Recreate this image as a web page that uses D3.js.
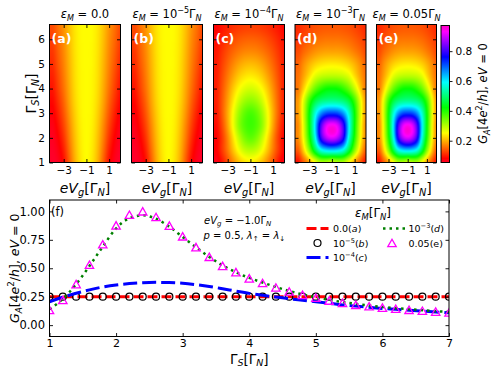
<!DOCTYPE html>
<html>
<head>
<meta charset="utf-8">
<script src="https://cdn.jsdelivr.net/npm/d3@7"></script>
<style>
  body { margin: 0; background: #fff; }
  text { white-space: pre; }
</style>
</head>
<body>
<script>
// heatmap grid (eV_g columns, Gamma_S rows from bottom to top)
const heatX = [-4, -3.5, -3, -2.5, -2, -1.5, -1, -0.5, 0, 0.5, 1, 1.5, 2];
const heatY = [1, 1.5, 2, 2.5, 3, 3.5, 4, 4.5, 5, 5.5, 6, 6.5];

const gridAB = [
  [0.05, 0.062, 0.09, 0.145, 0.2, 0.235, 0.25, 0.235, 0.2, 0.145, 0.09, 0.062, 0.05],
  [0.055, 0.07, 0.102, 0.155, 0.205, 0.238, 0.25, 0.238, 0.205, 0.155, 0.102, 0.07, 0.055],
  [0.06, 0.08, 0.115, 0.165, 0.21, 0.24, 0.25, 0.24, 0.21, 0.165, 0.115, 0.08, 0.06],
  [0.067, 0.091, 0.127, 0.173, 0.215, 0.242, 0.25, 0.242, 0.215, 0.173, 0.127, 0.091, 0.067],
  [0.076, 0.102, 0.138, 0.182, 0.22, 0.244, 0.25, 0.244, 0.22, 0.182, 0.138, 0.102, 0.076],
  [0.085, 0.113, 0.148, 0.19, 0.225, 0.245, 0.25, 0.245, 0.225, 0.19, 0.148, 0.113, 0.085],
  [0.094, 0.123, 0.157, 0.195, 0.228, 0.246, 0.25, 0.246, 0.228, 0.195, 0.157, 0.123, 0.094],
  [0.102, 0.13, 0.163, 0.199, 0.23, 0.246, 0.25, 0.246, 0.23, 0.199, 0.163, 0.13, 0.102],
  [0.11, 0.138, 0.168, 0.202, 0.231, 0.247, 0.25, 0.247, 0.231, 0.202, 0.168, 0.138, 0.11],
  [0.117, 0.144, 0.172, 0.205, 0.233, 0.247, 0.25, 0.247, 0.233, 0.205, 0.172, 0.144, 0.117],
  [0.124, 0.15, 0.176, 0.208, 0.234, 0.248, 0.25, 0.248, 0.234, 0.208, 0.176, 0.15, 0.124],
  [0.13, 0.155, 0.18, 0.21, 0.235, 0.248, 0.25, 0.248, 0.235, 0.21, 0.18, 0.155, 0.13],
];

const gridC = [
  [0.065, 0.095, 0.135, 0.175, 0.21, 0.232, 0.24, 0.232, 0.21, 0.175, 0.135, 0.095, 0.065],
  [0.08, 0.117, 0.162, 0.212, 0.258, 0.29, 0.3, 0.29, 0.258, 0.212, 0.162, 0.117, 0.08],
  [0.08, 0.118, 0.172, 0.235, 0.295, 0.34, 0.358, 0.34, 0.295, 0.235, 0.172, 0.118, 0.08],
  [0.088, 0.13, 0.19, 0.26, 0.328, 0.368, 0.382, 0.368, 0.328, 0.26, 0.19, 0.13, 0.088],
  [0.095, 0.14, 0.196, 0.258, 0.318, 0.358, 0.374, 0.358, 0.318, 0.258, 0.196, 0.14, 0.095],
  [0.1, 0.14, 0.188, 0.238, 0.285, 0.316, 0.327, 0.316, 0.285, 0.238, 0.188, 0.14, 0.1],
  [0.1, 0.136, 0.176, 0.216, 0.25, 0.272, 0.28, 0.272, 0.25, 0.216, 0.176, 0.136, 0.1],
  [0.1, 0.13, 0.162, 0.192, 0.218, 0.234, 0.24, 0.234, 0.218, 0.192, 0.162, 0.13, 0.1],
  [0.098, 0.123, 0.148, 0.171, 0.19, 0.202, 0.206, 0.202, 0.19, 0.171, 0.148, 0.123, 0.098],
  [0.095, 0.115, 0.134, 0.15, 0.162, 0.17, 0.172, 0.17, 0.162, 0.15, 0.134, 0.115, 0.095],
  [0.09, 0.105, 0.119, 0.131, 0.14, 0.145, 0.147, 0.145, 0.14, 0.131, 0.119, 0.105, 0.09],
  [0.082, 0.094, 0.104, 0.113, 0.119, 0.123, 0.124, 0.123, 0.119, 0.113, 0.104, 0.094, 0.082],
];

const gridDE = [
  [0.09, 0.14, 0.19, 0.25, 0.3, 0.3, 0.28, 0.3, 0.3, 0.25, 0.19, 0.14, 0.09],
  [0.14, 0.22, 0.33, 0.46, 0.57, 0.61, 0.62, 0.61, 0.57, 0.46, 0.33, 0.22, 0.14],
  [0.17, 0.26, 0.4, 0.57, 0.78, 0.88, 0.91, 0.88, 0.78, 0.57, 0.4, 0.26, 0.17],
  [0.17, 0.27, 0.42, 0.6, 0.8, 0.91, 0.94, 0.91, 0.8, 0.6, 0.42, 0.27, 0.17],
  [0.18, 0.28, 0.42, 0.56, 0.66, 0.71, 0.72, 0.71, 0.66, 0.56, 0.42, 0.28, 0.18],
  [0.18, 0.27, 0.38, 0.46, 0.5, 0.515, 0.52, 0.515, 0.5, 0.46, 0.38, 0.27, 0.18],
  [0.16, 0.22, 0.29, 0.35, 0.39, 0.415, 0.42, 0.415, 0.39, 0.35, 0.29, 0.22, 0.16],
  [0.155, 0.19, 0.23, 0.27, 0.29, 0.298, 0.3, 0.298, 0.29, 0.27, 0.23, 0.19, 0.155],
  [0.145, 0.175, 0.2, 0.22, 0.232, 0.238, 0.24, 0.238, 0.232, 0.22, 0.2, 0.175, 0.145],
  [0.13, 0.15, 0.165, 0.178, 0.186, 0.19, 0.19, 0.19, 0.186, 0.178, 0.165, 0.15, 0.13],
  [0.118, 0.132, 0.143, 0.152, 0.157, 0.16, 0.16, 0.16, 0.157, 0.152, 0.143, 0.132, 0.118],
  [0.108, 0.118, 0.127, 0.134, 0.138, 0.14, 0.14, 0.14, 0.138, 0.134, 0.127, 0.118, 0.108],
];

const panelGrids = [gridAB, gridAB, gridC, gridDE, gridDE];
const panelTags = ['(a)', '(b)', '(c)', '(d)', '(e)'];
const heatXTicks = [-3, -1, 1];
const heatYTicks = [1, 2, 3, 4, 5, 6];
const cbarTicks = [0.2, 0.4, 0.6, 0.8];
const cbarRange = [0.054, 0.972];

// line plot (f)
const gammaS = [1.0, 1.2, 1.4, 1.6, 1.8, 2.0, 2.2, 2.4, 2.6, 2.8, 3.0, 3.2, 3.4, 3.6, 3.8, 4.0,
  4.2, 4.4, 4.6, 4.8, 5.0, 5.2, 5.4, 5.6, 5.8, 6.0, 6.2, 6.4, 6.6, 6.8, 7.0];
const seriesA = [0.25, 0.25, 0.25, 0.25, 0.25, 0.25, 0.25, 0.25, 0.25, 0.25, 0.25, 0.25, 0.25, 0.25, 0.25, 0.25,
  0.25, 0.25, 0.25, 0.25, 0.25, 0.25, 0.25, 0.25, 0.25, 0.25, 0.25, 0.25, 0.25, 0.25, 0.25];
const seriesB = [0.25, 0.25, 0.25, 0.25, 0.25, 0.25, 0.25, 0.25, 0.25, 0.25, 0.25, 0.25, 0.25, 0.25, 0.25, 0.25,
  0.25, 0.25, 0.25, 0.25, 0.25, 0.25, 0.25, 0.25, 0.25, 0.25, 0.25, 0.25, 0.25, 0.25, 0.25];
const seriesC = [0.205, 0.245, 0.28, 0.31, 0.335, 0.353, 0.365, 0.373, 0.376, 0.374, 0.368, 0.356, 0.34, 0.32, 0.299, 0.279,
  0.262, 0.247, 0.232, 0.219, 0.206, 0.192, 0.178, 0.167, 0.157, 0.147, 0.139, 0.131, 0.123, 0.116, 0.108];
const seriesD = [0.14, 0.23, 0.36, 0.52, 0.69, 0.85, 0.94, 0.965, 0.935, 0.865, 0.775, 0.685, 0.6, 0.525, 0.465, 0.415,
  0.375, 0.335, 0.3, 0.27, 0.245, 0.222, 0.203, 0.187, 0.173, 0.16, 0.149, 0.14, 0.131, 0.123, 0.116];
const seriesE = [0.132, 0.22, 0.36, 0.53, 0.71, 0.876, 0.97, 1.0, 0.95, 0.874, 0.78, 0.685, 0.6, 0.52, 0.465, 0.41,
  0.37, 0.33, 0.295, 0.265, 0.24, 0.215, 0.195, 0.178, 0.165, 0.153, 0.143, 0.134, 0.126, 0.118, 0.11];
const lineXTicks = [1, 2, 3, 4, 5, 6, 7];
const lineYTicks = [0, 0.25, 0.5, 0.75, 1.0];

const FONT = 'DejaVu Sans';

// gist_rainbow colour map
const cmapStops = [0, 0.03, 0.215, 0.4, 0.586, 0.77, 0.954, 1];
const cmapColors = ['#ff0029', '#ff0000', '#ffff00', '#00ff00', '#00ffff', '#0000ff', '#ff00ff', '#ff00bf'];
const cmap = d3.scaleLinear()
  .domain(cmapStops.map((s) => cbarRange[0] + s * (cbarRange[1] - cbarRange[0])))
  .range(cmapColors)
  .clamp(true);

const svg = d3.select('body').append('svg')
  .attr('width', 498)
  .attr('height', 374)
  .style('display', 'block');
const defs = svg.append('defs');

// small helper for matplotlib-like mathtext
const seg = (txt, st = '') => ({ txt, it: st.includes('i'), sub: st.includes('s'), sup: st.includes('p') });
function mathText(parent, segs, size) {
  const t = parent.append('text').attr('font-family', FONT).attr('font-size', size).attr('fill', '#000');
  let off = 0;
  segs.forEach((s) => {
    const target = s.sub ? size * 0.22 : (s.sup ? -size * 0.4 : 0);
    const ts = t.append('tspan').text(s.txt).attr('dy', target - off);
    off = target;
    if (s.sub || s.sup) ts.attr('font-size', size * 0.7);
    if (s.it) ts.attr('font-style', 'italic');
  });
  return t;
}

function styleAxis(g, size) {
  g.select('.domain').remove();
  g.selectAll('.tick line').attr('stroke', '#000').attr('stroke-width', 0.9);
  g.selectAll('.tick text').attr('font-family', FONT).attr('font-size', size).attr('fill', '#000');
}

// smooth (bicubic) lookup into a grid, as imshow's interpolation does
function cubic(p0, p1, p2, p3, t) {
  return p1 + 0.5 * t * (p2 - p0 + t * (2 * p0 - 5 * p1 + 4 * p2 - p3 + t * (3 * (p1 - p2) + p3 - p0)));
}
function sampleGrid(grid, fi, fj) {
  const nr = grid.length;
  const nc = grid[0].length;
  const ci = Math.floor(fi);
  const rj = Math.floor(fj);
  const cl = (k, n) => Math.max(0, Math.min(n - 1, k));
  const rows = [-1, 0, 1, 2].map((o) => {
    const row = grid[cl(rj + o, nr)];
    return cubic(row[cl(ci - 1, nc)], row[cl(ci, nc)], row[cl(ci + 1, nc)], row[cl(ci + 2, nc)], fi - ci);
  });
  return cubic(rows[0], rows[1], rows[2], rows[3], fj - rj);
}

// ---------- heatmaps ----------
const hmTop = 24.5;
const hmBottom = 162.5;
const panelLeft = [49.5, 131.5, 213.5, 295, 376.5];
const panelWidth = [71, 71, 71, 71, 60];
const titles = [
  [seg('ε', 'i'), seg('M', 'is'), seg(' = 0.0')],
  [seg('ε', 'i'), seg('M', 'is'), seg(' = 10'), seg('−5', 'p'), seg('Γ'), seg('N', 'is')],
  [seg('ε', 'i'), seg('M', 'is'), seg(' = 10'), seg('−4', 'p'), seg('Γ'), seg('N', 'is')],
  [seg('ε', 'i'), seg('M', 'is'), seg(' = 10'), seg('−3', 'p'), seg('Γ'), seg('N', 'is')],
  [seg('ε', 'i'), seg('M', 'is'), seg(' = 0.05'), seg('Γ'), seg('N', 'is')],
];

const y = d3.scaleLinear().domain([1, 6.6]).range([hmBottom, hmTop]);
const dxCell = heatX[1] - heatX[0];
const dyCell = heatY[1] - heatY[0];

panelGrids.forEach((grid, i) => {
  const left = panelLeft[i];
  const w = panelWidth[i];
  const h = hmBottom - hmTop;
  const x = d3.scaleLinear().domain([-4.25, 2]).range([left, left + w]);
  const g = svg.append('g');

  const W = Math.round(w);
  const H = Math.round(h);
  const canvas = document.createElement('canvas');
  canvas.width = W;
  canvas.height = H;
  const ctx = canvas.getContext('2d');
  const img = ctx.createImageData(W, H);
  for (let py = 0; py < H; py += 1) {
    const yv = y.invert(hmTop + (py + 0.5) * h / H);
    const fj = Math.max(0, Math.min(heatY.length - 1, (yv - heatY[0]) / dyCell));
    for (let px = 0; px < W; px += 1) {
      const xv = x.invert(left + (px + 0.5) * w / W);
      const fi = Math.max(0, Math.min(heatX.length - 1, (xv - heatX[0]) / dxCell));
      const col = d3.rgb(cmap(sampleGrid(grid, fi, fj)));
      const k = (py * W + px) * 4;
      img.data[k] = col.r;
      img.data[k + 1] = col.g;
      img.data[k + 2] = col.b;
      img.data[k + 3] = 255;
    }
  }
  ctx.putImageData(img, 0, 0);

  g.append('image')
    .attr('href', canvas.toDataURL())
    .attr('x', left).attr('y', hmTop)
    .attr('width', w).attr('height', h)
    .attr('preserveAspectRatio', 'none');

  // axes, ticks pointing inwards on all sides
  const fmt = d3.format('d');
  const ax = g.append('g').attr('transform', `translate(0,${hmBottom})`)
    .call(d3.axisBottom(x).tickValues(heatXTicks).tickSize(-3.5).tickPadding(4.5).tickFormat(fmt));
  styleAxis(ax, 10.5);
  const axT = g.append('g').attr('transform', `translate(0,${hmTop})`)
    .call(d3.axisTop(x).tickValues(heatXTicks).tickSize(-3.5).tickFormat(''));
  styleAxis(axT, 10);
  const ayL = g.append('g').attr('transform', `translate(${left},0)`)
    .call(d3.axisLeft(y).tickValues(heatYTicks).tickSize(-3.5).tickPadding(4.5)
      .tickFormat(i === 0 ? fmt : ''));
  styleAxis(ayL, 10.5);
  const ayR = g.append('g').attr('transform', `translate(${left + w},0)`)
    .call(d3.axisRight(y).tickValues(heatYTicks).tickSize(-3.5).tickFormat(''));
  styleAxis(ayR, 10);

  g.append('rect')
    .attr('x', left).attr('y', hmTop)
    .attr('width', w).attr('height', h)
    .attr('fill', 'none').attr('stroke', '#000').attr('stroke-width', 1);

  g.append('text')
    .attr('x', left + 2).attr('y', hmTop + 18.5)
    .attr('font-family', FONT).attr('font-size', 12.5).attr('font-weight', 'bold')
    .attr('fill', '#fff')
    .text(panelTags[i]);

  mathText(g, titles[i], 11.5)
    .attr('x', left + w / 2).attr('y', 18)
    .attr('text-anchor', 'middle');

  mathText(g, [seg('eV', 'i'), seg('g', 'is'), seg('['), seg('Γ'), seg('N', 'is'), seg(']')], 14)
    .attr('x', left + w / 2).attr('y', 193)
    .attr('text-anchor', 'middle');
});

mathText(svg, [seg('Γ'), seg('S', 'is'), seg('['), seg('Γ'), seg('N', 'is'), seg(']')], 14)
  .attr('text-anchor', 'middle')
  .attr('transform', `translate(35.5,${(hmTop + hmBottom) / 2}) rotate(-90)`);

// ---------- colour bar ----------
const cbLeft = 441;
const cbW = 8.5;
const cbTop = 25.5;
const cbScale = d3.scaleLinear().domain(cbarRange).range([hmBottom, cbTop]);
const grad = defs.append('linearGradient').attr('id', 'cbgrad')
  .attr('x1', 0).attr('y1', 1).attr('x2', 0).attr('y2', 0);
cmapStops.forEach((s, k) => {
  grad.append('stop').attr('offset', s).attr('stop-color', cmapColors[k]);
});
svg.append('rect')
  .attr('x', cbLeft).attr('y', cbTop)
  .attr('width', cbW).attr('height', hmBottom - cbTop)
  .attr('fill', 'url(#cbgrad)')
  .attr('stroke', '#000').attr('stroke-width', 1);
const cbAxis = svg.append('g').attr('transform', `translate(${cbLeft + cbW},0)`)
  .call(d3.axisRight(cbScale).tickValues(cbarTicks).tickSize(3).tickPadding(3).tickFormat(d3.format('.1f')));
styleAxis(cbAxis, 10.5);

mathText(svg, [seg('G', 'i'), seg('A', 'is'), seg('[4'), seg('e', 'i'), seg('2', 'p'), seg('/'), seg('h', 'i'),
  seg('], '), seg('eV', 'i'), seg(' = 0')], 11.5)
  .attr('text-anchor', 'middle')
  .attr('transform', `translate(487,${(hmTop + hmBottom) / 2}) rotate(-90)`);

// ---------- line plot (f) ----------
const fLeft = 49.5;
const fRight = 449;
const fTop = 200;
const fBottom = 336.5;
const fx = d3.scaleLinear().domain([1, 7]).range([fLeft, fRight]);
const fy = d3.scaleLinear().domain([-0.1, 1.1]).range([fBottom, fTop]);
const fg = svg.append('g');

const fClip = defs.append('clipPath').attr('id', 'clip-f');
fClip.append('rect').attr('x', fLeft).attr('y', fTop).attr('width', fRight - fLeft).attr('height', fBottom - fTop);

const line = d3.line()
  .x((d) => fx(d[0]))
  .y((d) => fy(d[1]))
  .curve(d3.curveMonotoneX);
const plot = fg.append('g').attr('clip-path', 'url(#clip-f)');

plot.append('path')
  .datum(d3.zip(gammaS, seriesA))
  .attr('d', line)
  .attr('fill', 'none').attr('stroke', '#ff0000').attr('stroke-width', 3)
  .attr('stroke-dasharray', '10,4');

plot.selectAll('circle.b')
  .data(d3.zip(gammaS, seriesB))
  .join('circle')
  .attr('class', 'b')
  .attr('cx', (d) => fx(d[0])).attr('cy', (d) => fy(d[1]))
  .attr('r', 3.5)
  .attr('fill', 'none').attr('stroke', '#000').attr('stroke-width', 1.2);

plot.append('path')
  .datum(d3.zip(gammaS, seriesC))
  .attr('d', line)
  .attr('fill', 'none').attr('stroke', '#0000ff').attr('stroke-width', 3)
  .attr('stroke-dasharray', '14,5');

plot.append('path')
  .datum(d3.zip(gammaS, seriesD))
  .attr('d', line)
  .attr('fill', 'none').attr('stroke', '#008000').attr('stroke-width', 2.5)
  .attr('stroke-dasharray', '2.5,4');

const tri = 'M0,-3.8L-4.2,3.6L4.2,3.6Z';
plot.selectAll('path.e')
  .data(d3.zip(gammaS, seriesE))
  .join('path')
  .attr('class', 'e')
  .attr('d', tri)
  .attr('transform', (d) => `translate(${fx(d[0])},${fy(d[1])})`)
  .attr('fill', 'none').attr('stroke', '#ff00ff').attr('stroke-width', 1.3);

const fax = fg.append('g').attr('transform', `translate(0,${fBottom})`)
  .call(d3.axisBottom(fx).tickValues(lineXTicks).tickSize(-3.5).tickPadding(3).tickFormat(d3.format('d')));
styleAxis(fax, 11);
const faxT = fg.append('g').attr('transform', `translate(0,${fTop})`)
  .call(d3.axisTop(fx).tickValues(lineXTicks).tickSize(-3.5).tickFormat(''));
styleAxis(faxT, 11);
const fay = fg.append('g').attr('transform', `translate(${fLeft},0)`)
  .call(d3.axisLeft(fy).tickValues(lineYTicks).tickSize(-3.5).tickPadding(4.5).tickFormat(d3.format('.2f')));
styleAxis(fay, 11.5);
const fayR = fg.append('g').attr('transform', `translate(${fRight},0)`)
  .call(d3.axisRight(fy).tickValues(lineYTicks).tickSize(-3.5).tickFormat(''));
styleAxis(fayR, 11);
fg.append('rect')
  .attr('x', fLeft).attr('y', fTop)
  .attr('width', fRight - fLeft).attr('height', fBottom - fTop)
  .attr('fill', 'none').attr('stroke', '#000').attr('stroke-width', 1);

fg.append('text')
  .attr('x', 51).attr('y', 216)
  .attr('font-family', FONT).attr('font-size', 11.5)
  .text('(f)');

mathText(fg, [seg('Γ'), seg('S', 'is'), seg('['), seg('Γ'), seg('N', 'is'), seg(']')], 13.5)
  .attr('x', (fLeft + fRight) / 2).attr('y', 363.5)
  .attr('text-anchor', 'middle');

mathText(fg, [seg('G', 'i'), seg('A', 'is'), seg('[4'), seg('e', 'i'), seg('2', 'p'), seg('/'), seg('h', 'i'),
  seg('], '), seg('eV', 'i'), seg(' = 0')], 12.5)
  .attr('text-anchor', 'middle')
  .attr('transform', `translate(19,${(fTop + fBottom) / 2}) rotate(-90)`);

mathText(fg, [seg('eV', 'i'), seg('g', 'is'), seg(' = −1.0Γ'), seg('N', 'is')], 10)
  .attr('x', 204).attr('y', 224);
mathText(fg, [seg('p', 'i'), seg(' = 0.5, '), seg('λ', 'i'), seg('↑', 's'), seg(' = '), seg('λ', 'i'), seg('↓', 's')], 10)
  .attr('x', 203.5).attr('y', 238.5);

// legend
const lg = fg.append('g');
mathText(lg, [seg('ε', 'i'), seg('M', 'is'), seg('['), seg('Γ'), seg('N', 'is'), seg(']')], 12)
  .attr('x', 373).attr('y', 217).attr('text-anchor', 'middle');
const rowY = [228.5, 243, 257.5];
const legendRows = [
  { col: 0, row: 0, kind: 'line', color: '#ff0000', dash: '10,4', width: 3,
    label: [seg('0.0('), seg('a', 'i'), seg(')')] },
  { col: 0, row: 1, kind: 'circle', label: [seg('10'), seg('−5', 'p'), seg('('), seg('b', 'i'), seg(')')] },
  { col: 0, row: 2, kind: 'line', color: '#0000ff', dash: '14,5', width: 3,
    label: [seg('10'), seg('−4', 'p'), seg('('), seg('c', 'i'), seg(')')] },
  { col: 1, row: 0, kind: 'line', color: '#008000', dash: '2.5,4', width: 2.5,
    label: [seg('10'), seg('−3', 'p'), seg('('), seg('d', 'i'), seg(')')] },
  { col: 1, row: 1, kind: 'tri', label: [seg('0.05(e)')] },
];
const colX = [306.5, 383];
legendRows.forEach((e) => {
  const x0 = colX[e.col];
  const yy = rowY[e.row];
  if (e.kind === 'line') {
    lg.append('line')
      .attr('x1', x0).attr('x2', x0 + 22).attr('y1', yy).attr('y2', yy)
      .attr('stroke', e.color).attr('stroke-width', e.width).attr('stroke-dasharray', e.dash);
  } else if (e.kind === 'circle') {
    lg.append('circle').attr('cx', x0 + 11).attr('cy', yy).attr('r', 3.5)
      .attr('fill', 'none').attr('stroke', '#000').attr('stroke-width', 1.2);
  } else {
    lg.append('path').attr('d', tri).attr('transform', `translate(${x0 + 9},${yy})`)
      .attr('fill', 'none').attr('stroke', '#ff00ff').attr('stroke-width', 1.3);
  }
  mathText(lg, e.label, 9.5)
    .attr('x', x0 + (e.col === 0 ? 26.5 : 25.5)).attr('y', yy + 3.5);
});
</script>
</body>
</html>
